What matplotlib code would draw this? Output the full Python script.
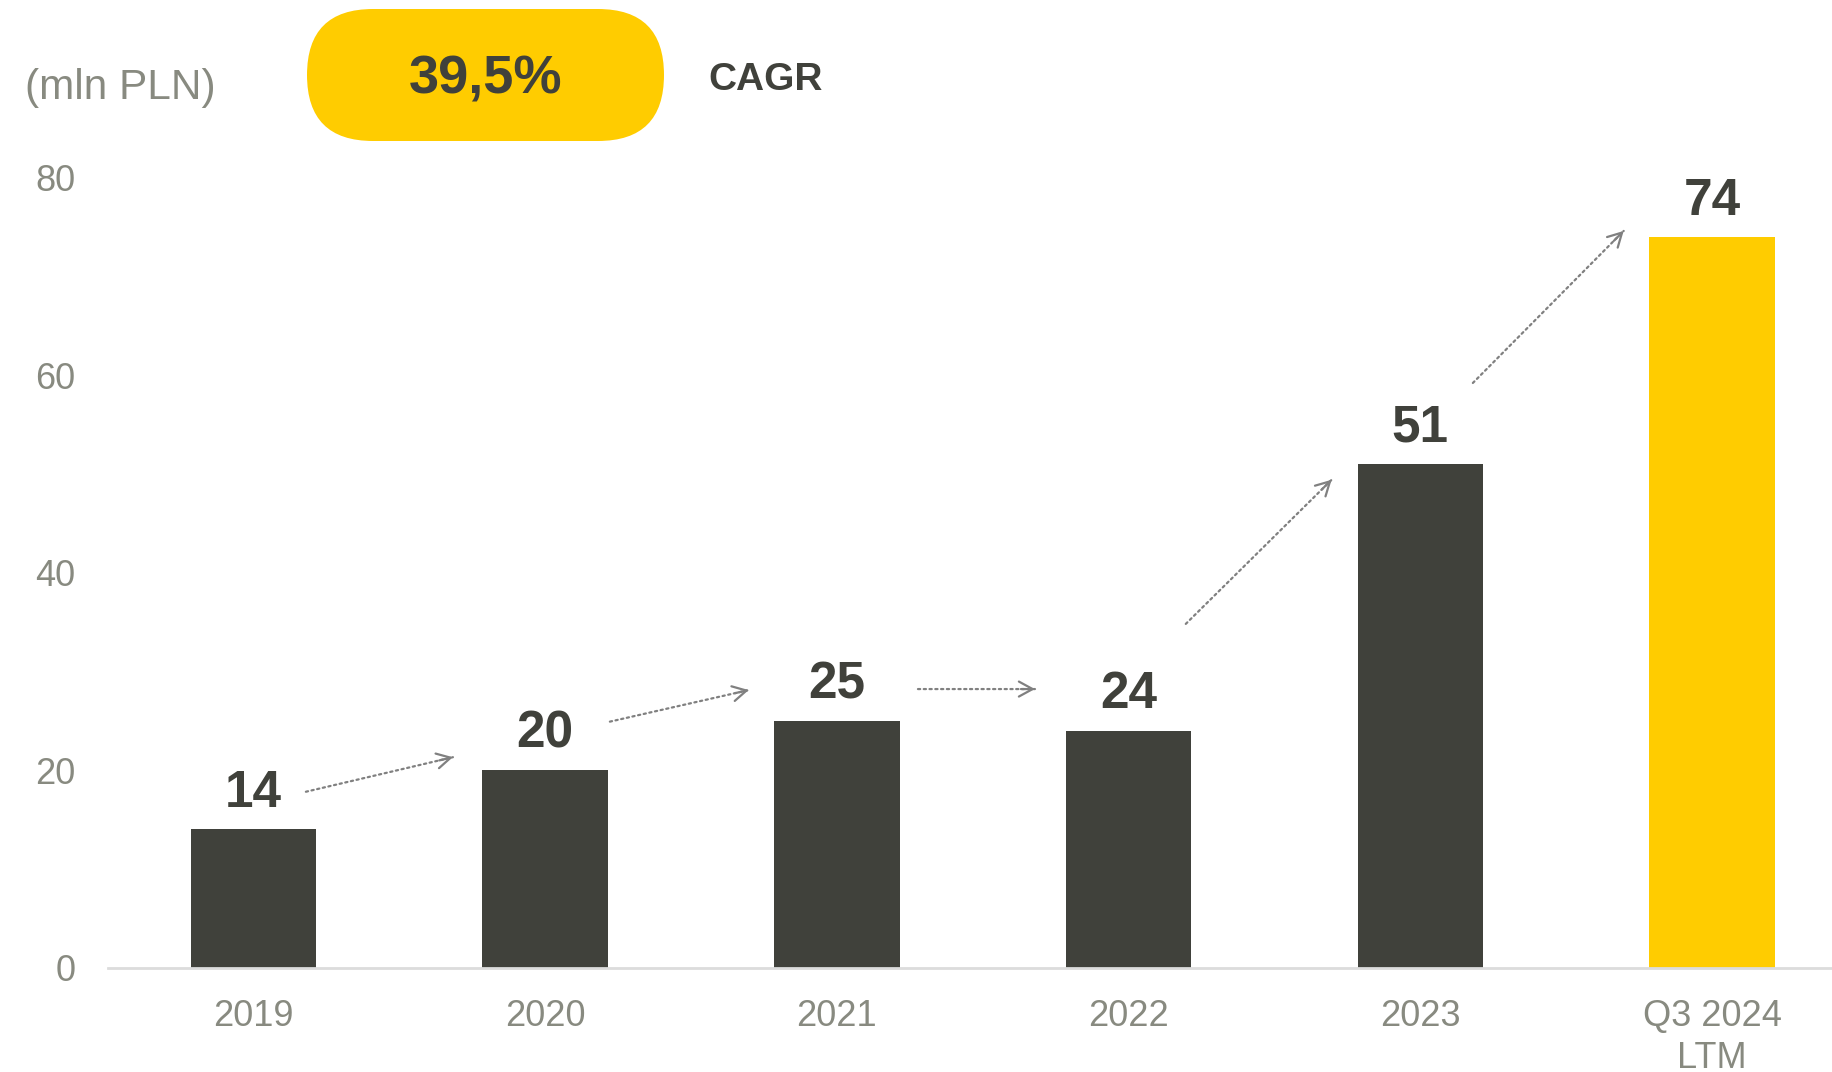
import numpy as np
import matplotlib
matplotlib.use("Agg")
import matplotlib.pyplot as plt
from matplotlib.patches import FancyBboxPatch

plt.rcParams['font.family'] = ['Liberation Sans', 'DejaVu Sans']

# Data (mln PLN)
categories = ['2019', '2020', '2021', '2022', '2023', 'Q3 2024\nLTM']
revenue = [14, 20, 25, 24, 51, 74]
y_ticks = [0, 20, 40, 60, 80]
cagr_text = '39,5%'
unit_text = '(mln PLN)'

# Growth arrows between consecutive bars:
# horizontal offsets from the left bar's centre and heights in data units
arrow_from_dx = [0.18, 0.222, 0.278, 0.196, 0.18]
arrow_to_dx = [0.684, 0.698, 0.679, 0.696, 0.697]
arrow_from_y = [17.8, 24.9, 28.2, 34.8, 59.2]
arrow_to_y = [21.3, 28.1, 28.2, 49.4, 74.6]

DARK = '#40413b'
YELLOW = '#ffcc00'
GREY_TXT = '#888a80'
ARROW = '#808080'

W, H = 1832, 1072
fig = plt.figure(figsize=(W / 100, H / 100), dpi=100)
ax = fig.add_axes([107.5 / W, 1 - 967.5 / H, 1 - 107.5 / W, (967.5 - 177.6) / H])

x = np.arange(len(categories))
colors = [DARK] * (len(categories) - 1) + [YELLOW]
ax.bar(x, revenue, width=0.43, color=colors, zorder=2)

ax.set_xlim(-0.5, 5.411)
ax.set_ylim(0, 80)

for s in ['top', 'right', 'left']:
    ax.spines[s].set_visible(False)
ax.spines['bottom'].set_color('#dcdcdc')
ax.spines['bottom'].set_linewidth(2)

ax.set_yticks(y_ticks)
ax.set_yticklabels([str(t) for t in y_ticks])
ax.set_xticks(x)
ax.set_xticklabels(categories, linespacing=1.27)
ax.tick_params(axis='y', length=0, pad=23, labelsize=26, labelcolor=GREY_TXT)
ax.tick_params(axis='x', length=0, pad=22.5, labelsize=26, labelcolor=GREY_TXT)

# Value labels above bars
for xi, v in zip(x, revenue):
    ax.annotate(str(v), xy=(xi, v), xytext=(0, 16), textcoords='offset points',
                ha='center', va='baseline', fontsize=37, fontweight='bold',
                color=DARK, annotation_clip=False)

# Dotted growth arrows with solid open heads
to_disp = ax.transData
to_data = ax.transData.inverted()
for i in range(len(arrow_from_y)):
    start = (x[i] + arrow_from_dx[i], arrow_from_y[i])
    end = (x[i] + arrow_to_dx[i], arrow_to_y[i])
    ax.annotate('', xy=end, xytext=start,
                arrowprops=dict(arrowstyle='-', linestyle=(0, (1, 1.6)),
                                color=ARROW, lw=1.6, shrinkA=0, shrinkB=0),
                annotation_clip=False)
    p0 = np.array(to_disp.transform(start))
    p1 = np.array(to_disp.transform(end))
    d = (p1 - p0) / np.linalg.norm(p1 - p0)
    back = to_data.transform(p1 - d * 14)
    ax.annotate('', xy=end, xytext=tuple(back),
                arrowprops=dict(arrowstyle='->,head_length=0.55,head_width=0.3',
                                mutation_scale=18, color=ARROW, lw=1.6,
                                shrinkA=0, shrinkB=0),
                annotation_clip=False)

# Header: unit label, CAGR pill
fig.text(25 / W, 1 - 88 / H, unit_text, fontsize=30.5, color=GREY_TXT,
         ha='left', va='center')

pill_h = 1.32
pill = FancyBboxPatch((3.07, (H - 141) / 100), 3.57, pill_h,
                      boxstyle=f'round,pad=0,rounding_size={pill_h / 2}',
                      transform=fig.dpi_scale_trans, facecolor=YELLOW,
                      edgecolor='none')
fig.patches.append(pill)
fig.text(486 / W, 1 - 80 / H, cagr_text, fontsize=39, fontweight='bold',
         color=DARK, ha='center', va='center')
fig.text(708 / W, 1 - 80 / H, 'CAGR', fontsize=28, fontweight='bold',
         color=DARK, ha='left', va='center')

fig.savefig('out.png', dpi=100, facecolor='white')
